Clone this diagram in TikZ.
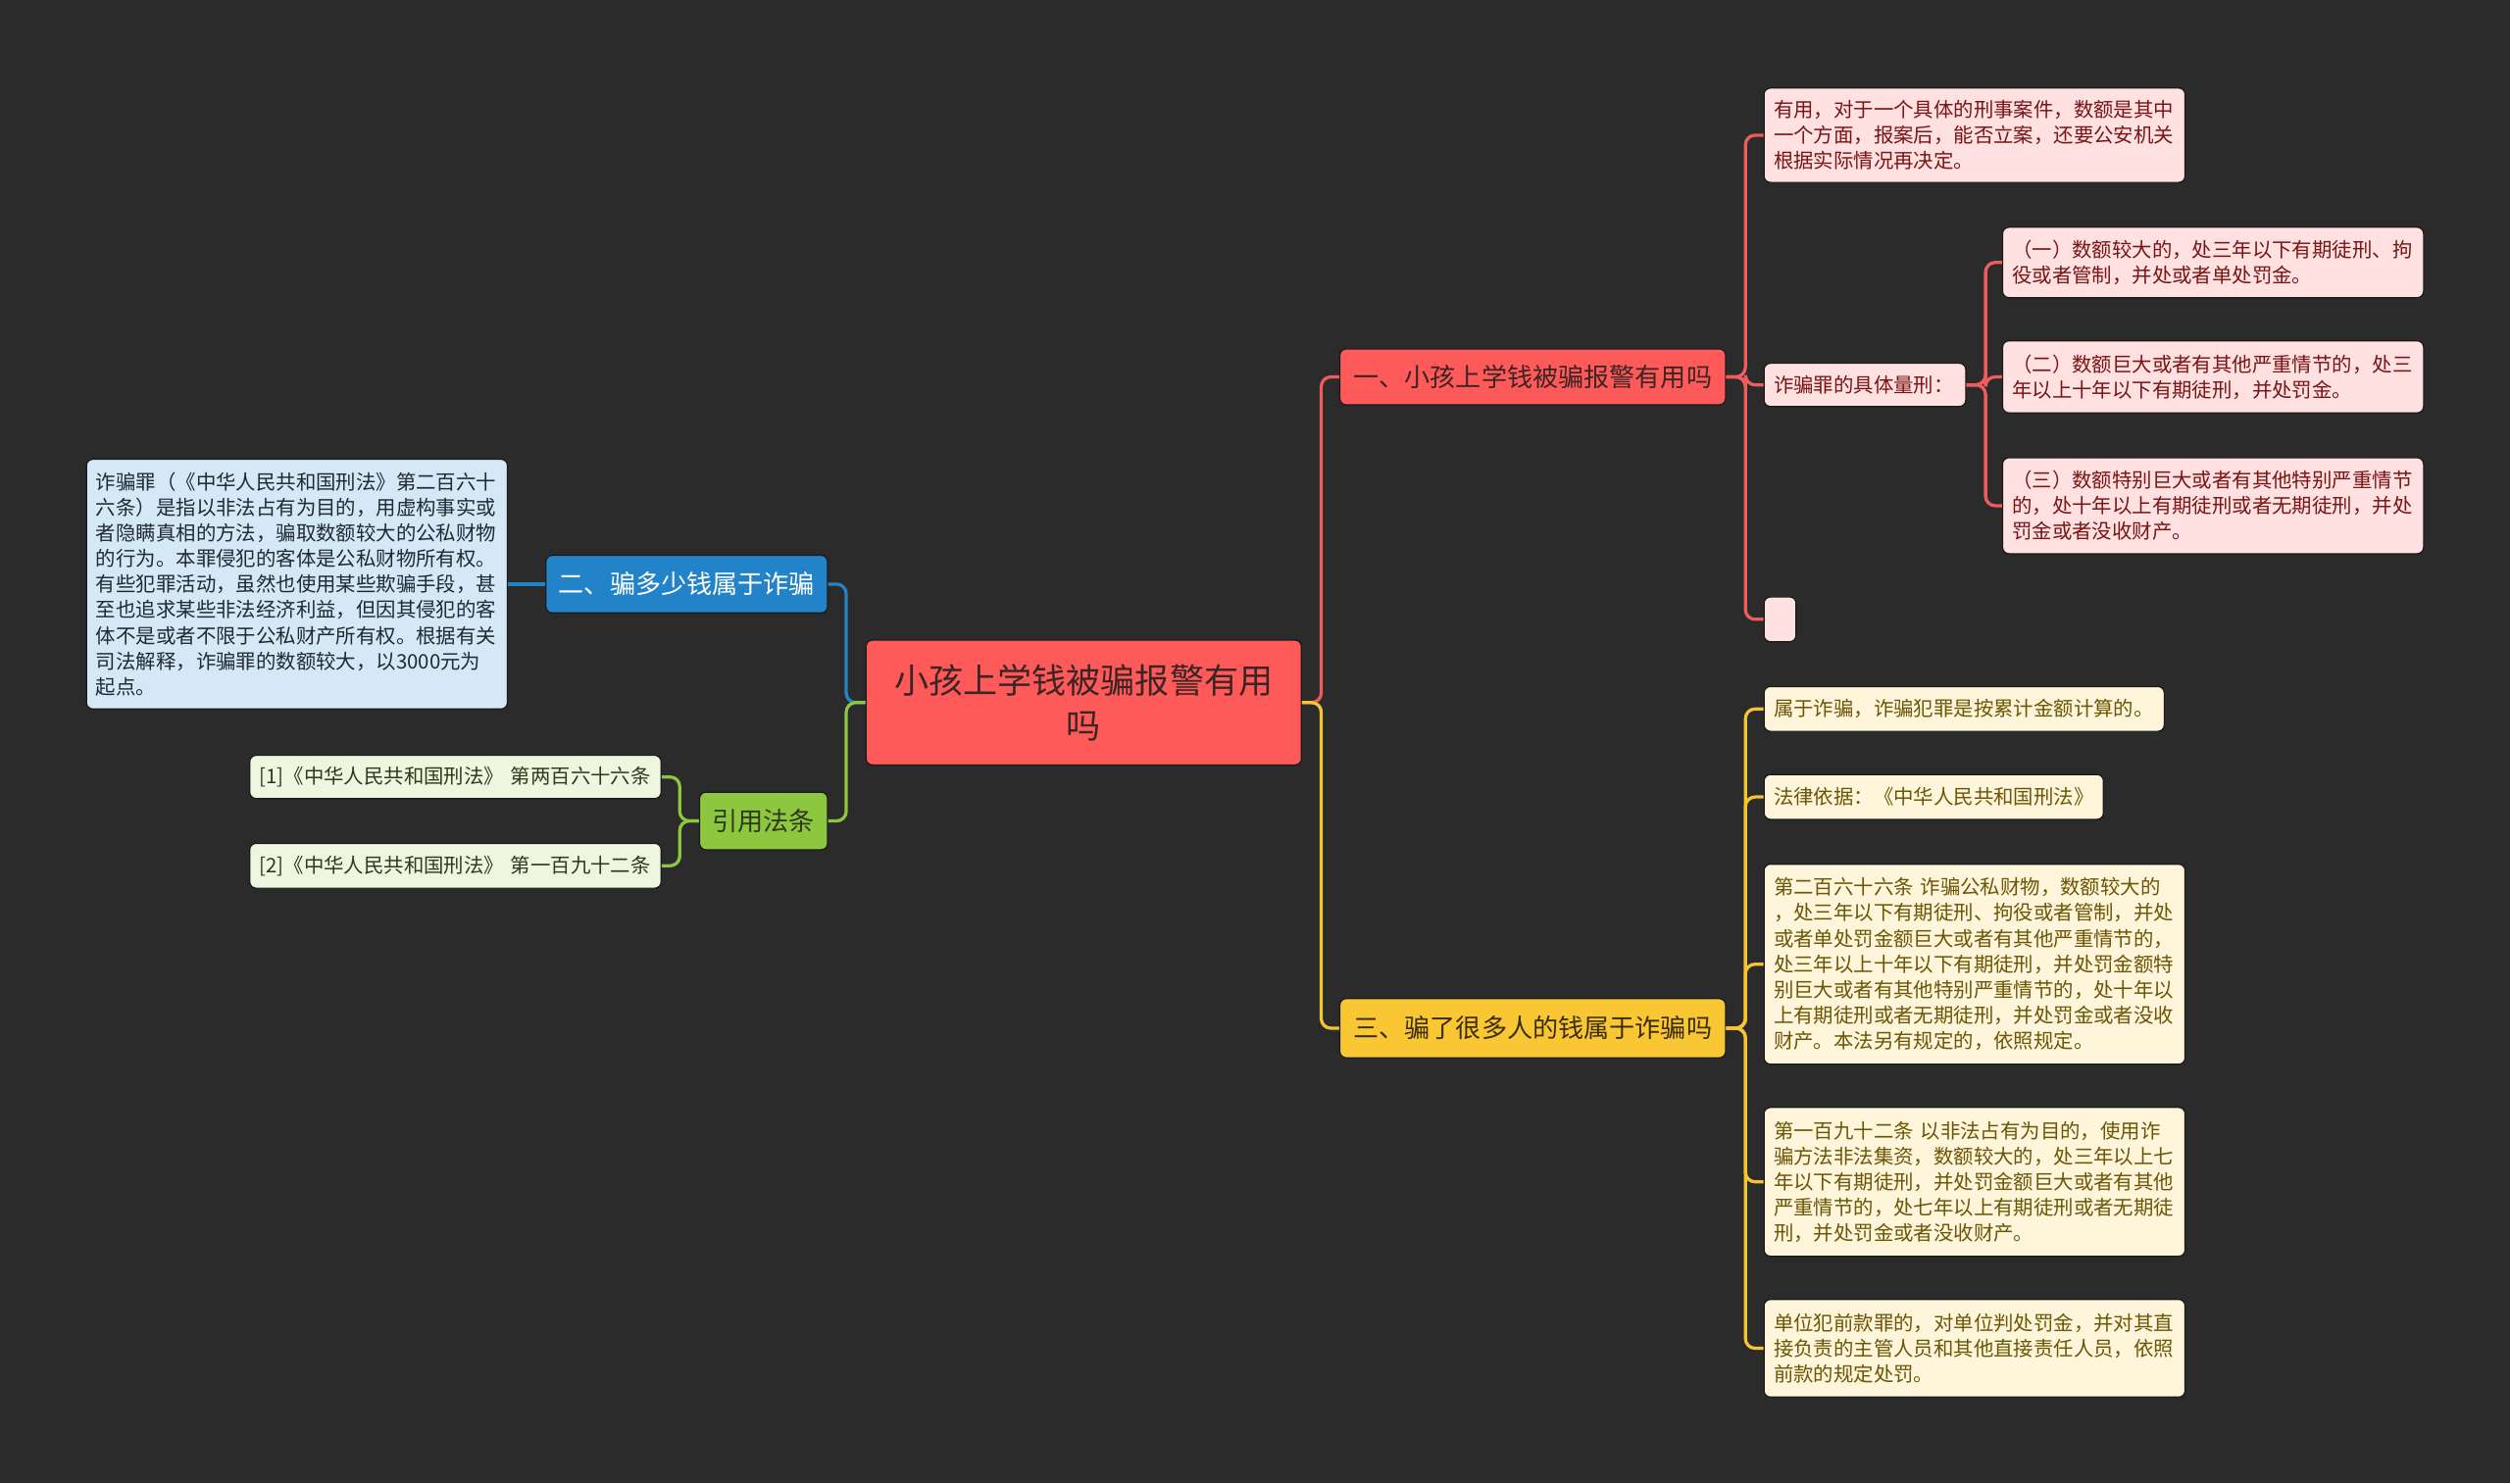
\documentclass[tikz,border=0pt]{standalone}
\usepackage{fontspec}
\setmainfont{Noto Sans CJK SC}
\definecolor{bgc}{HTML}{2B2B2B}
\definecolor{rootfill}{HTML}{FF5A5A}
\definecolor{roottext}{HTML}{3A2424}
\definecolor{bluefill}{HTML}{2383C8}
\definecolor{greenfill}{HTML}{8DC63F}
\definecolor{greentext}{HTML}{2E3A16}
\definecolor{yellowfill}{HTML}{F9C733}
\definecolor{yellowtext}{HTML}{3A2D08}
\definecolor{redlf}{HTML}{FFE1E1}
\definecolor{redlt}{HTML}{7A1414}
\definecolor{bluelf}{HTML}{D5E8F6}
\definecolor{bluelt}{HTML}{1F2A35}
\definecolor{greenlf}{HTML}{EEF6DF}
\definecolor{greenlt}{HTML}{2E3A1A}
\definecolor{yellowlf}{HTML}{FFF5DA}
\definecolor{yellowlt}{HTML}{6B5606}
\definecolor{redln}{HTML}{EE5C5C}
\definecolor{blueln}{HTML}{2383C8}
\definecolor{greenln}{HTML}{8DC63F}
\definecolor{yellowln}{HTML}{F5C431}
\definecolor{edgec}{HTML}{1A1A1A}
\begin{document}
\begin{tikzpicture}[x=0.8pt,y=-0.8pt,
  box/.style={rounded corners=3.2pt, draw=edgec, line width=0.6pt, inner xsep=4.8pt, inner ysep=0pt, anchor=center},
  leaf/.style={box, align=left, font=\fontsize{10}{12.8}\selectfont},
  redleaf/.style={leaf, fill=redlf, text=redlt},
  blueleaf/.style={leaf, fill=bluelf, text=bluelt},
  greenleaf/.style={leaf, fill=greenlf, text=greenlt},
  yellowleaf/.style={leaf, fill=yellowlf, text=yellowlt},
  branch/.style={box, align=center, font=\fontsize{12.8}{16}\selectfont},
  rootbox/.style={box, align=center, fill=rootfill, text=roottext, font=\fontsize{17.2}{22.4}\selectfont},
  conn/.style={line width=1.6pt, rounded corners=4.8pt}
]
\useasboundingbox[fill=bgc] (0,0) rectangle (1568,927);

% root and main branches
\node[rootbox, minimum width=217.6pt, minimum height=62.4pt] (root) at (677,439) {小孩上学钱被骗报警有用\\吗};
\node[branch, fill=rootfill, text=roottext, minimum width=192.8pt, minimum height=28pt] (b1) at (957.5,235.5) {一、小孩上学钱被骗报警有用吗};
\node[branch, fill=bluefill, text=white, minimum width=140.8pt, minimum height=28.8pt] (b2) at (429,365) {二、骗多少钱属于诈骗};
\node[branch, fill=greenfill, text=greentext, minimum width=64pt, minimum height=28.8pt] (b4) at (477,513) {引用法条};
\node[branch, fill=yellowfill, text=yellowtext, minimum width=192.8pt, minimum height=29.6pt] (b3) at (957.5,642.5) {三、骗了很多人的钱属于诈骗吗};

% red leaves
\node[redleaf, text width=200.8pt, minimum height=47.2pt] (l1) at (1233.5,84.5) {有用，对于一个具体的刑事案件，数额是其中\\一个方面，报案后，能否立案，还要公安机关\\根据实际情况再决定。};
\node[redleaf, text width=91.2pt, minimum height=21.6pt] (l2) at (1165,240.5) {诈骗罪的具体量刑：};
\node[redleaf, text width=200.8pt, minimum height=35.2pt] (l2a) at (1382.5,164) {（一）数额较大的，处三年以下有期徒刑、拘\\役或者管制，并处或者单处罚金。};
\node[redleaf, text width=200.8pt, minimum height=36pt] (l2b) at (1382.5,235.5) {（二）数额巨大或者有其他严重情节的，处三\\年以上十年以下有期徒刑，并处罚金。};
\node[redleaf, text width=200.8pt, minimum height=48pt] (l2c) at (1382.5,316) {（三）数额特别巨大或者有其他特别严重情节\\的，处十年以上有期徒刑或者无期徒刑，并处\\罚金或者没收财产。};
\node[box, fill=redlf, inner sep=0pt, minimum width=16pt, minimum height=22.4pt] (l3) at (1112,387) {};

% blue leaf
\node[blueleaf, text width=200.8pt, minimum height=124.8pt] (bl) at (185.5,365) {诈骗罪（《中华人民共和国刑法》第二百六十\\六条）是指以非法占有为目的，用虚构事实或\\者隐瞒真相的方法，骗取数额较大的公私财物\\的行为。本罪侵犯的客体是公私财物所有权。\\有些犯罪活动，虽然也使用某些欺骗手段，甚\\至也追求某些非法经济利益，但因其侵犯的客\\体不是或者不限于公私财产所有权。根据有关\\司法解释，诈骗罪的数额较大，以3000元为\\起点。};

% green leaves
\node[greenleaf, text width=196pt, minimum height=21.6pt] (g1) at (284.5,485.5) {[1]《中华人民共和国刑法》 第两百六十六条};
\node[greenleaf, text width=196pt, minimum height=22.4pt] (g2) at (284.5,541) {[2]《中华人民共和国刑法》 第一百九十二条};

% yellow leaves
\node[yellowleaf, text width=190.4pt, minimum height=22.4pt] (y1) at (1227,443) {属于诈骗，诈骗犯罪是按累计金额计算的。};
\node[yellowleaf, text width=160pt, minimum height=22.4pt] (y2) at (1208,498) {法律依据：《中华人民共和国刑法》};
\node[yellowleaf, text width=200.8pt, minimum height=100pt] (y3) at (1233.5,602.5) {第二百六十六条 诈骗公私财物，数额较大的\\，处三年以下有期徒刑、拘役或者管制，并处\\或者单处罚金额巨大或者有其他严重情节的，\\处三年以上十年以下有期徒刑，并处罚金额特\\别巨大或者有其他特别严重情节的，处十年以\\上有期徒刑或者无期徒刑，并处罚金或者没收\\财产。本法另有规定的，依照规定。};
\node[yellowleaf, text width=200.8pt, minimum height=74.4pt] (y4) at (1233.5,738.5) {第一百九十二条 以非法占有为目的，使用诈\\骗方法非法集资，数额较大的，处三年以上七\\年以下有期徒刑，并处罚金额巨大或者有其他\\严重情节的，处七年以上有期徒刑或者无期徒\\刑，并处罚金或者没收财产。};
\node[yellowleaf, text width=200.8pt, minimum height=48.8pt] (y5) at (1233.5,842.5) {单位犯前款罪的，对单位判处罚金，并对其直\\接负责的主管人员和其他直接责任人员，依照\\前款的规定处罚。};

% connectors
\draw[conn, redln] (root.east) -- ++(9.6pt,0) |- (b1.west);
\draw[conn, yellowln] (root.east) -- ++(9.6pt,0) |- (b3.west);
\draw[conn, blueln] (root.west) -- ++(-9.6pt,0) |- (b2.east);
\draw[conn, greenln] (root.west) -- ++(-9.6pt,0) |- (b4.east);
\draw[conn, blueln] (b2.west) -- (bl.east);
\draw[conn, greenln] (b4.west) -- ++(-9.6pt,0) |- (g1.east);
\draw[conn, greenln] (b4.west) -- ++(-9.6pt,0) |- (g2.east);
\foreach \t in {l1,l2,l3}{\draw[conn, redln] (b1.east) -- ++(9.6pt,0) |- (\t.west);}
\foreach \t in {l2a,l2b,l2c}{\draw[conn, redln] (l2.east) -- ++(9.6pt,0) |- (\t.west);}
\foreach \t in {y1,y2,y3,y4,y5}{\draw[conn, yellowln] (b3.east) -- ++(9.6pt,0) |- (\t.west);}
\end{tikzpicture}
\end{document}
